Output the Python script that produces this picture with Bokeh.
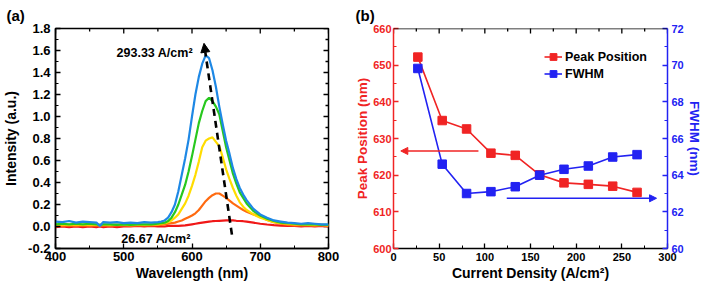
import math
from bokeh.plotting import figure
from bokeh.models import (Range1d, LinearAxis, Arrow, NormalHead, Label, Legend,
                          LegendItem, PrintfTickFormatter, FixedTicker, Span)
from bokeh.layouts import row
from bokeh.embed import file_html
from bokeh.resources import INLINE

# ---------------- data: panel (a) spectra ----------------
wavelength = [400, 410, 420, 430, 440, 450, 460, 465, 470, 480, 490, 500, 510, 520, 530, 540,
              550, 555, 560, 565, 570, 575, 580, 585, 590, 595, 600, 605, 610, 615, 620, 625,
              630, 635, 640, 645, 650, 655, 660, 665, 670, 675, 680,
              690, 700, 710, 720, 730, 740, 750, 760, 770, 780, 790, 800]

int_293 = [0.045, 0.040, 0.050, 0.035, 0.045, 0.040, 0.035, 0.005, 0.040, 0.035, 0.040, 0.030, 0.035, 0.030, 0.040, 0.035,
           0.040, 0.045, 0.055, 0.080, 0.130, 0.200, 0.320, 0.470, 0.620, 0.790, 1.000, 1.200, 1.360, 1.480, 1.555, 1.530,
           1.420, 1.270, 1.090, 0.930, 0.780, 0.660, 0.530, 0.430, 0.350, 0.290, 0.240,
           0.160, 0.110, 0.080, 0.055, 0.045, 0.035, 0.030, 0.025, 0.030, 0.025, 0.020, 0.020]

int_hi = [0.020, 0.025, 0.020, 0.025, 0.020, 0.025, 0.020, 0.015, 0.020, 0.020, 0.015, 0.020, 0.015, 0.020, 0.020, 0.020,
          0.025, 0.030, 0.035, 0.050, 0.080, 0.130, 0.200, 0.290, 0.380, 0.500, 0.640, 0.790, 0.940, 1.050, 1.140, 1.170,
          1.140, 1.090, 1.020, 0.870, 0.720, 0.600, 0.480, 0.390, 0.310, 0.260, 0.210,
          0.140, 0.100, 0.070, 0.050, 0.035, 0.030, 0.025, 0.020, 0.020, 0.020, 0.015, 0.015]

int_mid = [0.015, 0.020, 0.015, 0.020, 0.015, 0.020, 0.015, 0.015, 0.020, 0.015, 0.020, 0.015, 0.015, 0.020, 0.015, 0.020,
           0.020, 0.025, 0.030, 0.040, 0.055, 0.080, 0.110, 0.160, 0.210, 0.280, 0.370, 0.470, 0.590, 0.720, 0.780, 0.800,
           0.810, 0.770, 0.730, 0.630, 0.520, 0.430, 0.350, 0.280, 0.220, 0.180, 0.150,
           0.110, 0.080, 0.060, 0.040, 0.030, 0.025, 0.020, 0.020, 0.015, 0.015, 0.015, 0.010]

int_low = [0.010, 0.005, 0.010, 0.005, 0.010, 0.005, 0.010, 0.005, 0.010, 0.005, 0.010, 0.010, 0.005, 0.010, 0.010, 0.010,
           0.015, 0.015, 0.020, 0.025, 0.030, 0.035, 0.045, 0.055, 0.070, 0.085, 0.100, 0.120, 0.150, 0.190, 0.230, 0.260,
           0.285, 0.300, 0.300, 0.280, 0.260, 0.235, 0.210, 0.190, 0.170, 0.150, 0.135,
           0.110, 0.090, 0.060, 0.040, 0.025, 0.015, 0.010, 0.010, 0.010, 0.005, 0.010, 0.005]

int_27 = [-0.005, 0.000, -0.005, 0.000, -0.005, 0.000, -0.005, 0.000, -0.005, 0.000, -0.005, 0.000, 0.000, 0.005, 0.000, 0.005,
          0.000, 0.000, 0.000, 0.005, 0.005, 0.005, 0.005, 0.008, 0.010, 0.015, 0.020, 0.025, 0.030, 0.035, 0.040, 0.044,
          0.048, 0.050, 0.052, 0.054, 0.055, 0.055, 0.055, 0.052, 0.050, 0.048, 0.045,
          0.035, 0.025, 0.018, 0.012, 0.008, 0.005, 0.005, 0.000, 0.005, 0.000, 0.005, 0.000]

spectra_colors = ["#f01818", "#ff6a10", "#ffdc00", "#28c81e", "#1e88e5"]

wl_ticks = [400, 500, 600, 700, 800]
wl_minor = [450, 550, 650, 750]
int_ticks = [-0.2, 0.0, 0.2, 0.4, 0.6, 0.8, 1.0, 1.2, 1.4, 1.6, 1.8]
int_minor = [-0.1, 0.1, 0.3, 0.5, 0.7, 0.9, 1.1, 1.3, 1.5, 1.7]

# dashed trend arrow in (a): start (low current) -> end (high current)
trend_start = [658.5, -0.074]
trend_end = [617.6, 1.665]
label_hi = "293.33 A/cm²"
label_lo = "26.67 A/cm²"
label_hi_pos = [489.5, 1.575]
label_lo_pos = [496.5, -0.11]

# ---------------- data: panel (b) ----------------
current_density = [26.67, 53.33, 80.0, 106.67, 133.33, 160.0, 186.67, 213.33, 240.0, 266.67]
peak_position = [652.2, 634.9, 632.6, 626.0, 625.4, 620.1, 617.9, 617.5, 617.0, 615.3]
fwhm = [69.82, 64.6, 63.0, 63.1, 63.37, 64.0, 64.32, 64.5, 64.99, 65.12]

cd_ticks = [0, 50, 100, 150, 200, 250, 300]
cd_minor = [25, 75, 125, 175, 225, 275]
pp_ticks = [600, 610, 620, 630, 640, 650, 660]
pp_minor = [605, 615, 625, 635, 645, 655]
fw_ticks = [60, 62, 64, 66, 68, 70, 72]
fw_minor = [61, 63, 65, 67, 69, 71]

red_arrow = [93.0, 626.6, 8.0, 626.6]
blue_arrow = [124.0, 613.7, 288.0, 613.7]

RED = "#f02424"
BLUE = "#2222f2"
FONT = "Liberation Sans"


def style_axis(ax, color="black", label_size="14px", tick_size="13px"):
    ax.axis_line_color = color
    ax.axis_line_width = 1.5
    ax.major_tick_line_color = color
    ax.minor_tick_line_color = color
    ax.major_tick_line_width = 1.3
    ax.minor_tick_line_width = 1.0
    ax.major_tick_in = 5
    ax.major_tick_out = 0
    ax.minor_tick_in = 3
    ax.minor_tick_out = 0
    ax.major_label_text_font = FONT
    ax.major_label_text_font_style = "bold"
    ax.major_label_text_font_size = tick_size
    ax.major_label_text_color = color
    ax.axis_label_text_font = FONT
    ax.axis_label_text_font_style = "bold"
    ax.axis_label_text_font_size = label_size
    ax.axis_label_text_color = color


def mirror_ticks(p, positions, fixed, vertical, size, color="black", y_range_name="default"):
    # inward tick marks on the top/right frame edges (half of the dash is clipped by the frame)
    if vertical:
        xs, ys, ang = positions, [fixed] * len(positions), math.pi / 2
    else:
        xs, ys, ang = [fixed] * len(positions), positions, 0.0
    p.scatter(xs, ys, marker="dash", size=size, angle=ang, line_color=color,
              line_width=1.3, y_range_name=y_range_name)


def style_title(p, text, offset):
    p.title.text = text
    p.title.text_font = FONT
    p.title.text_font_style = "bold"
    p.title.text_font_size = "15px"
    p.title.text_color = "black"
    p.title.align = "left"
    p.title.offset = offset
    p.title.standoff = 9


# ================= panel (a) =================
pa = figure(width=350, height=283, output_backend="svg", toolbar_location=None,
            x_range=Range1d(400, 800), y_range=Range1d(-0.2, 1.8),
            min_border_left=51, min_border_right=22, min_border_top=0, min_border_bottom=34)
pa.outline_line_color = "black"
pa.outline_line_width = 1.5
pa.xgrid.visible = False
pa.ygrid.visible = False

pa.xaxis.ticker = FixedTicker(ticks=wl_ticks, minor_ticks=wl_minor)
pa.yaxis.ticker = FixedTicker(ticks=int_ticks, minor_ticks=int_minor)
pa.yaxis.formatter = PrintfTickFormatter(format="%.1f")
pa.xaxis.axis_label = "Wavelength (nm)"
pa.yaxis.axis_label = "Intensity (a.u.)"
for ax in pa.xaxis + pa.yaxis:
    style_axis(ax)
pa.xaxis.major_label_standoff = 3
pa.xaxis.axis_label_standoff = 1
pa.yaxis.major_label_standoff = 5
pa.yaxis.axis_label_standoff = 6

mirror_ticks(pa, wl_ticks, int_ticks[-1], True, 10)
mirror_ticks(pa, wl_minor, int_ticks[-1], True, 6)
mirror_ticks(pa, int_ticks, wl_ticks[-1], False, 10)
mirror_ticks(pa, int_minor, wl_ticks[-1], False, 6)

for series, col in zip([int_27, int_low, int_mid, int_hi, int_293], spectra_colors):
    pa.line(wavelength, series, line_color=col, line_width=2.2)

pa.add_layout(Arrow(x_start=trend_start[0], y_start=trend_start[1],
                    x_end=trend_end[0], y_end=trend_end[1],
                    line_color="black", line_width=2.6, line_dash="7 5",
                    end=NormalHead(size=9, fill_color="black", line_color="black", line_width=1)))

pa.add_layout(Label(x=label_hi_pos[0], y=label_hi_pos[1], text=label_hi, text_font=FONT,
                    text_color="black", text_font_style="bold", text_font_size="12.5px",
                    text_baseline="middle"))
pa.add_layout(Label(x=label_lo_pos[0], y=label_lo_pos[1], text=label_lo, text_font=FONT,
                    text_color="black", text_font_style="bold", text_font_size="12.5px",
                    text_baseline="middle"))

style_title(pa, "(a)", -49)

# ================= panel (b) =================
pb = figure(width=357, height=283, output_backend="svg", toolbar_location=None,
            x_range=Range1d(0, 300), y_range=Range1d(600, 660),
            min_border_left=43, min_border_right=40, min_border_top=0, min_border_bottom=34)
pb.outline_line_color = None
pb.xgrid.visible = False
pb.ygrid.visible = False
pb.extra_y_ranges = {"fwhm": Range1d(60, 72)}

pb.xaxis.ticker = FixedTicker(ticks=cd_ticks, minor_ticks=cd_minor)
pb.yaxis.ticker = FixedTicker(ticks=pp_ticks, minor_ticks=pp_minor)
pb.xaxis.axis_label = "Current Density (A/cm²)"
pb.yaxis.axis_label = "Peak Position (nm)"
for ax in pb.xaxis:
    style_axis(ax, "black", tick_size="11px")
for ax in pb.yaxis:
    style_axis(ax, RED, tick_size="11px", label_size="13.5px")
pb.xaxis.major_label_standoff = 4
pb.xaxis.axis_label_standoff = 1
pb.yaxis.major_label_standoff = 2
pb.yaxis.axis_label_standoff = 0

right_b = LinearAxis(y_range_name="fwhm", ticker=FixedTicker(ticks=fw_ticks, minor_ticks=fw_minor),
                     axis_label="FWHM (nm)")
style_axis(right_b, BLUE, tick_size="11px", label_size="13.5px")
right_b.major_label_standoff = 4
right_b.axis_label_standoff = 0
pb.add_layout(right_b, "right")

pb.add_layout(Span(location=pp_ticks[-1], dimension="width", line_color="black", line_width=1.5))
mirror_ticks(pb, cd_ticks, pp_ticks[-1], True, 10)
mirror_ticks(pb, cd_minor, pp_ticks[-1], True, 6)

l1 = pb.line(current_density, peak_position, line_color=RED, line_width=1.6)
s1 = pb.scatter(current_density, peak_position, marker="square", size=8.5,
                fill_color=RED, line_color=RED)
l2 = pb.line(current_density, fwhm, line_color=BLUE, line_width=1.6, y_range_name="fwhm")
s2 = pb.scatter(current_density, fwhm, marker="square", size=8.5,
                fill_color=BLUE, line_color=BLUE, y_range_name="fwhm")

pb.add_layout(Arrow(x_start=red_arrow[0], y_start=red_arrow[1], x_end=red_arrow[2], y_end=red_arrow[3],
                    line_color=RED, line_width=1.6,
                    end=NormalHead(size=7, fill_color=RED, line_color=RED)))
pb.add_layout(Arrow(x_start=blue_arrow[0], y_start=blue_arrow[1], x_end=blue_arrow[2], y_end=blue_arrow[3],
                    line_color=BLUE, line_width=1.6,
                    end=NormalHead(size=7, fill_color=BLUE, line_color=BLUE)))

legend = Legend(items=[LegendItem(label="Peak Position", renderers=[l1, s1]),
                       LegendItem(label="FWHM", renderers=[l2, s2])],
                location="top_right")
legend.border_line_color = None
legend.background_fill_alpha = 0
legend.margin = 20
legend.padding = 3
legend.spacing = 0
legend.glyph_width = 18
legend.glyph_height = 17
legend.label_height = 17
legend.label_standoff = 3
legend.label_text_font = FONT
legend.label_text_font_style = "bold"
legend.label_text_font_size = "12.5px"
legend.label_text_color = "black"
pb.add_layout(legend)

style_title(pb, "(b)", -38)

layout = row(pa, pb)
open("out.html", "w").write(file_html(layout, INLINE))
